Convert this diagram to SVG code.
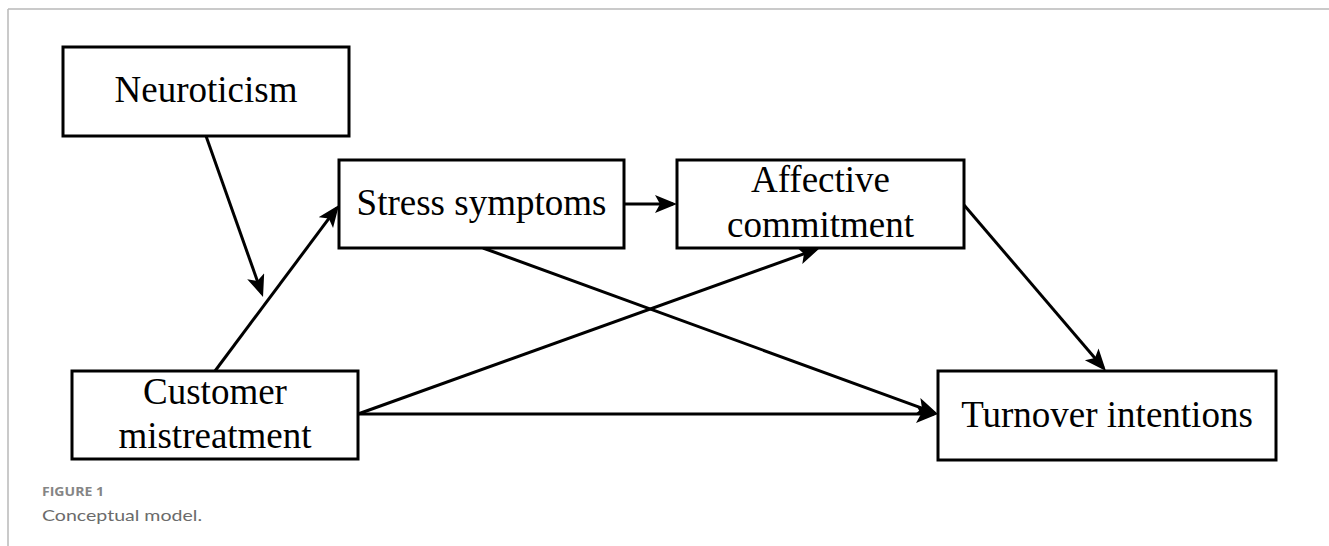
<svg xmlns="http://www.w3.org/2000/svg" width="1329" height="546" viewBox="0 0 1329 546">
  <style>
    .box { fill: #ffffff; stroke: #000000; stroke-width: 3; }
    .lbl { font-family: "Liberation Serif", "Times New Roman", serif; font-size: 37px; fill: #000000; text-anchor: middle; }
    .edge { stroke: #000000; stroke-width: 3; fill: none; marker-end: url(#arrow); }
    .frame { stroke: #b8b8b8; stroke-width: 1.5; fill: none; }
    .figno { font-family: "Open Sans", "Lato", sans-serif; font-size: 12px; font-weight: 700; fill: #858585; }
    .cap { font-family: "Lato", "Open Sans", sans-serif; font-size: 16px; fill: #6b6b6b; }
  </style>
  <defs>
    <marker id="arrow" markerUnits="userSpaceOnUse" markerWidth="24" markerHeight="20" refX="18" refY="9" orient="auto">
      <path d="M0,0 L22,9 L0,18 L5,9 Z" fill="#000000"/>
    </marker>
  </defs>
  <rect width="1329" height="546" fill="#ffffff"/>
  <g id="frame">
    <line class="frame" x1="8" y1="9" x2="1329" y2="9"/>
    <line class="frame" x1="8" y1="9" x2="8" y2="546"/>
  </g>
  <g id="connectors">
    <line class="edge" x1="206" y1="136" x2="261.7" y2="293.2"/>
    <line class="edge" x1="215" y1="371" x2="336.6" y2="208.2"/>
    <line class="edge" x1="624" y1="204" x2="673" y2="204"/>
    <line class="edge" x1="483" y1="248" x2="934.2" y2="412.6"/>
    <line class="edge" x1="358" y1="414" x2="816.2" y2="249.4"/>
    <line class="edge" x1="358" y1="414" x2="934" y2="414"/>
    <line class="edge" x1="964" y1="205" x2="1103.4" y2="368"/>
  </g>
  <g id="neuroticism">
    <rect class="box" x="63" y="47" width="286" height="89"/>
    <text class="lbl" x="206" y="102">Neuroticism</text>
  </g>
  <g id="stress">
    <rect class="box" x="339" y="160" width="285" height="88"/>
    <text class="lbl" x="481.5" y="215">Stress symptoms</text>
  </g>
  <g id="affective">
    <rect class="box" x="677" y="160" width="287" height="88"/>
    <text class="lbl" x="820.5" y="192">Affective</text>
    <text class="lbl" x="820.5" y="237">commitment</text>
  </g>
  <g id="customer">
    <rect class="box" x="72" y="371" width="286" height="88"/>
    <text class="lbl" x="215" y="404">Customer</text>
    <text class="lbl" x="215" y="448">mistreatment</text>
  </g>
  <g id="turnover">
    <rect class="box" x="938" y="371" width="338" height="89"/>
    <text class="lbl" x="1107" y="427">Turnover intentions</text>
  </g>
  <g id="caption">
    <text class="figno" x="42" y="496" textLength="62" lengthAdjust="spacingAndGlyphs">FIGURE 1</text>
    <text class="cap" x="42" y="521" textLength="160" lengthAdjust="spacingAndGlyphs">Conceptual model.</text>
  </g>
</svg>
